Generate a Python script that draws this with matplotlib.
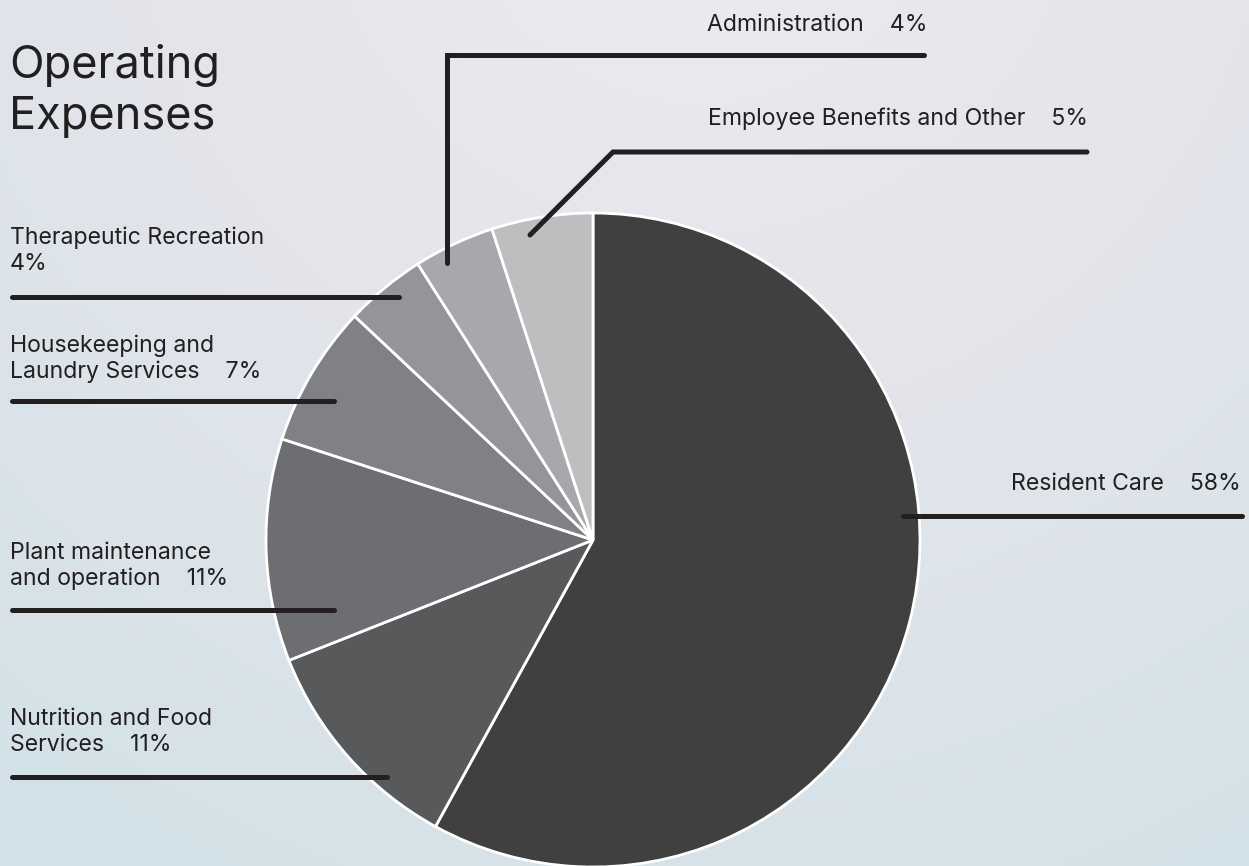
import numpy as np
import matplotlib
matplotlib.use("Agg")
import matplotlib.pyplot as plt
from matplotlib.colors import LinearSegmentedColormap

# ---- data ----
categories = ["Resident Care", "Nutrition and Food\nServices", "Plant maintenance\nand operation",
              "Housekeeping and\nLaundry Services", "Therapeutic Recreation\n", "Administration",
              "Employee Benefits and Other"]
values = [58, 11, 11, 7, 4, 4, 5]
colors = ["#404040", "#58595b", "#6d6e71", "#808184", "#939598", "#a6a8ab", "#bcbec0"]
title = "Operating\nExpenses"

W, H = 1249, 866
FONT = ["Inter", "DejaVu Sans"]
INK = "#231f20"

fig = plt.figure(figsize=(W / 100, H / 100), dpi=100)

# background gradient
bg = fig.add_axes([0, 0, 1, 1])
bg.set_axis_off()
yy, xx = np.mgrid[0:H, 0:W]
d = np.sqrt((xx - 700) ** 2 + ((yy + 150) * 1.0) ** 2)
d = np.clip(d / 1150, 0, 1)
cmap = LinearSegmentedColormap.from_list("bg", ["#ecebf0", "#e3e5eb", "#d3e2e8"])
bg.imshow(d, cmap=cmap, extent=(0, W, H, 0), aspect="auto", vmin=0, vmax=1)
bg.set_xlim(0, W)
bg.set_ylim(H, 0)

# pie axes (normal orientation, pixel units)
pa = fig.add_axes([0, 0, 1, 1])
pa.set_axis_off()
cx, cy, r = 593, H - 540, 327
pa.pie(values, colors=colors, startangle=90, counterclock=False,
       center=(cx, cy), radius=r, frame=True,
       wedgeprops=dict(edgecolor="white", linewidth=2))
pa.set_xlim(0, W)
pa.set_ylim(0, H)
pa.set_axis_off()

# overlay for text and leader lines (pixel coords, y down)
ov = fig.add_axes([0, 0, 1, 1])
ov.set_axis_off()
ov.patch.set_alpha(0)
ov.set_xlim(0, W)
ov.set_ylim(H, 0)

TS, LS = 32.5, 16.6

# title
for i, line in enumerate(title.split("\n")):
    ov.text(9, 78 + i * 51, line, fontsize=TS, family=FONT, color=INK, va="baseline", ha="left")

def label_lines(i):
    name = categories[i]
    parts = name.split("\n")
    pct = f"{values[i]}%"
    if parts[-1] == "":
        parts[-1] = pct
    else:
        parts[-1] = parts[-1] + "    " + pct
    return parts

lw = 3.6
left_layout = [
    (4, 244, [(12, 297), (399, 297)]),
    (3, 352, [(12, 401), (334, 401)]),
    (2, 559, [(12, 610), (334, 610)]),
    (1, 725, [(12, 777), (387, 777)]),
]
for idx, base, path in left_layout:
    for j, line in enumerate(label_lines(idx)):
        ov.text(10, base + j * 26, line, fontsize=LS, family=FONT, color=INK,
                va="baseline", ha="left")
    xs, ys = zip(*path)
    ov.plot(xs, ys, color=INK, lw=lw, solid_capstyle="round", solid_joinstyle="miter")

right_layout = [
    (0, 1241, 490, [(903, 516), (1242, 516)]),
    (5, 928, 31, [(447, 263), (447, 55), (924, 55)]),
    (6, 1088, 125, [(530, 235), (613, 152), (1087, 152)]),
]
for idx, xr, base, path in right_layout:
    txt = label_lines(idx)[0]
    ov.text(xr, base, txt, fontsize=LS, family=FONT, color=INK, va="baseline", ha="right")
    xs, ys = zip(*path)
    ov.plot(xs, ys, color=INK, lw=lw, solid_capstyle="round", solid_joinstyle="miter")

fig.savefig("out.png", dpi=100)
